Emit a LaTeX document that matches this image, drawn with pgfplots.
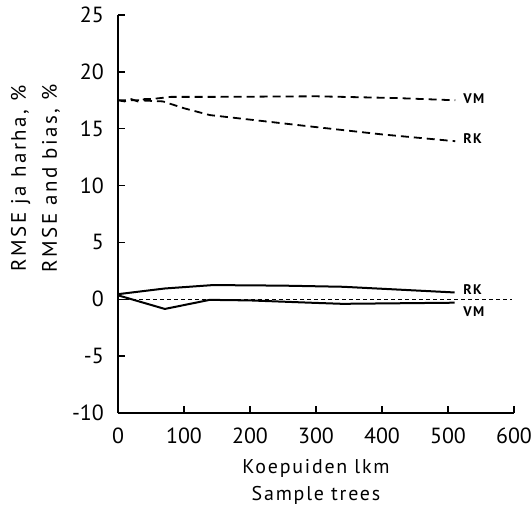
\documentclass[border=0pt]{standalone}
\usepackage{pgfplots}
\pgfplotsset{compat=1.18}
\usepackage{fontspec}
\setmainfont{PT Sans}
\newfontfamily\lblfont[LetterSpace=9]{PT Sans}
\newfontfamily\ylblfont[LetterSpace=12]{PT Sans}
\begin{document}
\fontsize{21}{24}\selectfont
\begin{tikzpicture}
\begin{axis}[
  at={(0,0)}, anchor=south west,
  scale only axis, width=396bp, height=398bp,
  xmin=0, xmax=600, ymin=-10, ymax=25,
  axis lines=left, axis line style={-, line width=1.6bp},
  tick align=inside, major tick length=7bp,
  tick style={line width=1.4bp, black},
  xtick={0,100,...,600}, ytick={-10,-5,...,25},
  /pgf/number format/assume math mode=true,
  ticklabel style={font=\fontsize{22}{24}\selectfont},
  xticklabel style={yshift=-8bp},
  yticklabel style={xshift=-7bp},
  xlabel={Koepuiden lkm\\Sample trees},
  xlabel style={align=center, font=\lblfont\fontsize{20}{27}\selectfont, yshift=-1bp},
  ylabel={RMSE ja harha, \%\\RMSE and bias, \%},
  ylabel style={at={(ticklabel cs:0.59)}, align=center, font=\ylblfont\fontsize{21}{31}\selectfont, yshift=-2bp},
  clip=false,
]
% zero line
\addplot[black, line width=1.1bp, dash pattern=on 4bp off 3bp] coordinates {(0,0) (597,0)};
% VM RMSE
\addplot[black, line width=1.8bp, dash pattern=on 8bp off 5bp] coordinates {
(0,17.5) (10,17.4) (20,17.6) (30,17.4) (40,17.6) (50,17.6) (80,17.8) (150,17.8) (300,17.85) (420,17.7) (511,17.5)};
% RK RMSE
\addplot[black, line width=1.8bp, dash pattern=on 8bp off 5bp] coordinates {
(0,17.5) (30,17.5) (68,17.4) (100,16.8) (139,16.2) (200,15.8) (291,15.2) (400,14.5) (511,13.9)};
% RK bias
\addplot[black, line width=2bp] coordinates {
(0,0.45) (71,0.95) (144,1.25) (250,1.2) (341,1.1) (510,0.6)};
% VM bias
\addplot[black, line width=2bp] coordinates {
(0,0.35) (71,-0.85) (139,-0.05) (200,-0.1) (291,-0.3) (340,-0.4) (510,-0.3)};
\tikzset{cl/.style={anchor=west, inner sep=0pt, font=\lblfont\bfseries\fontsize{14}{16}\selectfont}}
\node[cl] at (axis cs:523,17.6) {VM};
\node[cl] at (axis cs:523,14.1) {RK};
\node[cl] at (axis cs:523,0.9) {RK};
\node[cl] at (axis cs:523,-1.05) {VM};
\end{axis}
\pgfresetboundingbox
\path[use as bounding box] (-118bp,-94bp) rectangle (414bp,413bp);
\end{tikzpicture}
\end{document}
